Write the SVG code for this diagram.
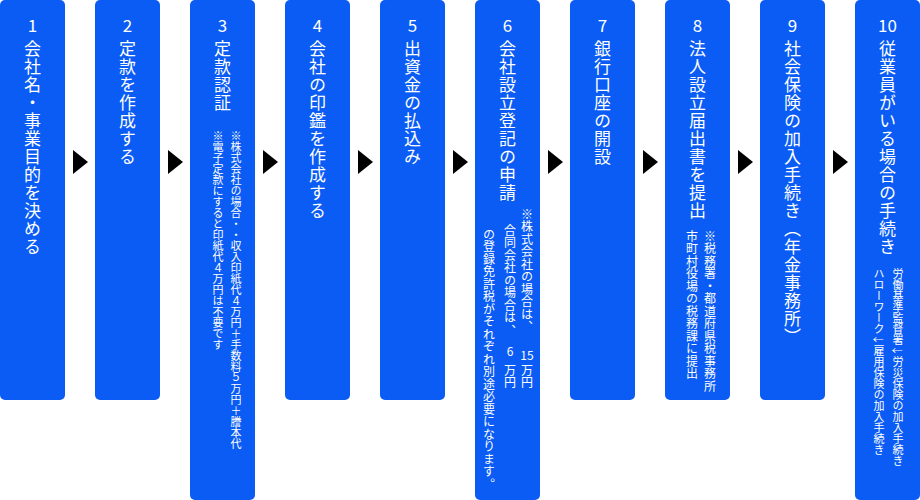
<svg xmlns="http://www.w3.org/2000/svg" width="920" height="500" viewBox="0 0 920 500">
<style>
.b{fill:#0a5cf5}
.n{fill:#fff;font-family:"Noto Sans CJK JP",sans-serif;font-size:17px;text-anchor:middle}
.t{fill:#fff;font-family:"Noto Sans CJK JP",sans-serif;font-size:17px;writing-mode:vertical-rl;letter-spacing:1px}
.s{fill:#fff;font-family:"Noto Sans CJK JP",sans-serif;font-size:11px;writing-mode:vertical-rl}
.m{fill:#fff;font-family:"Noto Sans CJK JP",sans-serif;font-size:12px;writing-mode:vertical-rl;letter-spacing:0.5px}
.h{fill:#fff;font-family:"Noto Sans CJK JP",sans-serif;font-size:12px;text-anchor:middle}
.a{fill:#000}
</style>
<g id="connectors">
<polygon class="a" points="73,150 88,162 73,174"/>
<polygon class="a" points="168,150 183,162 168,174"/>
<polygon class="a" points="263,150 278,162 263,174"/>
<polygon class="a" points="358,150 373,162 358,174"/>
<polygon class="a" points="453,150 468,162 453,174"/>
<polygon class="a" points="548,150 563,162 548,174"/>
<polygon class="a" points="643,150 658,162 643,174"/>
<polygon class="a" points="738,150 753,162 738,174"/>
<polygon class="a" points="833,150 848,162 833,174"/>
</g>
<g id="n1"><rect class="b" x="0" y="0" width="65" height="400" rx="5"/><text class="n" x="32.5" y="32">1</text><text class="t" x="32.5" y="40">会社名・事業目的を決める</text></g>
<g id="n2"><rect class="b" x="95" y="0" width="65" height="400" rx="5"/><text class="n" x="127.5" y="32">2</text><text class="t" x="127.5" y="40">定款を作成する</text></g>
<g id="n3"><rect class="b" x="190" y="0" width="65" height="500" rx="5"/><text class="n" x="222.5" y="32">3</text><text class="t" x="222.5" y="40">定款認証</text>
<text class="s" x="236" y="130">※株式会社の場合・・収入印紙代４万円＋手数料５万円＋謄本代</text>
<text class="s" x="218" y="130">※電子定款にすると印紙代４万円は不要です</text></g>
<g id="n4"><rect class="b" x="285" y="0" width="65" height="400" rx="5"/><text class="n" x="317.5" y="32">4</text><text class="t" x="317.5" y="40">会社の印鑑を作成する</text></g>
<g id="n5"><rect class="b" x="380" y="0" width="65" height="400" rx="5"/><text class="n" x="412.5" y="32">5</text><text class="t" x="412.5" y="40">出資金の払込み</text></g>
<g id="n6"><rect class="b" x="475" y="0" width="65" height="500" rx="5"/><text class="n" x="507.5" y="32">6</text><text class="t" x="507.5" y="40">会社設立登記の申請</text>
<text class="m" x="527" y="208">※株式会社の場合は、</text><text class="h" x="527" y="360">15</text><text class="m" x="527" y="364">万円</text>
<text class="m" x="510" y="224">合同会社の場合は、</text><text class="h" x="510" y="356">6</text><text class="m" x="510" y="364">万円</text>
<text class="m" x="489" y="228">の登録免許税がそれぞれ別途必要になります。</text></g>
<g id="n7"><rect class="b" x="570" y="0" width="65" height="400" rx="5"/><text class="n" x="602.5" y="32">7</text><text class="t" x="602.5" y="40">銀行口座の開設</text></g>
<g id="n8"><rect class="b" x="665" y="0" width="65" height="400" rx="5"/><text class="n" x="697.5" y="32">8</text><text class="t" x="697.5" y="40">法人設立届出書を提出</text>
<text class="m" x="710" y="230">※税務署・都道府県税事務所</text>
<text class="m" x="692" y="230">市町村役場の税務課に提出</text></g>
<g id="n9"><rect class="b" x="760" y="0" width="65" height="400" rx="5"/><text class="n" x="792.5" y="32">9</text><text class="t" x="792.5" y="40">社会保険の加入手続き（年金事務所）</text></g>
<g id="n10"><rect class="b" x="855" y="0" width="65" height="500" rx="5"/><text class="n" x="887.5" y="32">10</text><text class="t" x="887.5" y="40">従業員がいる場合の手続き</text>
<text class="s" x="898" y="268">労働基準監督署↓労災保険の加入手続き</text>
<text class="s" x="879" y="268">ハローワーク↓雇用保険の加入手続き</text></g>
</svg>
